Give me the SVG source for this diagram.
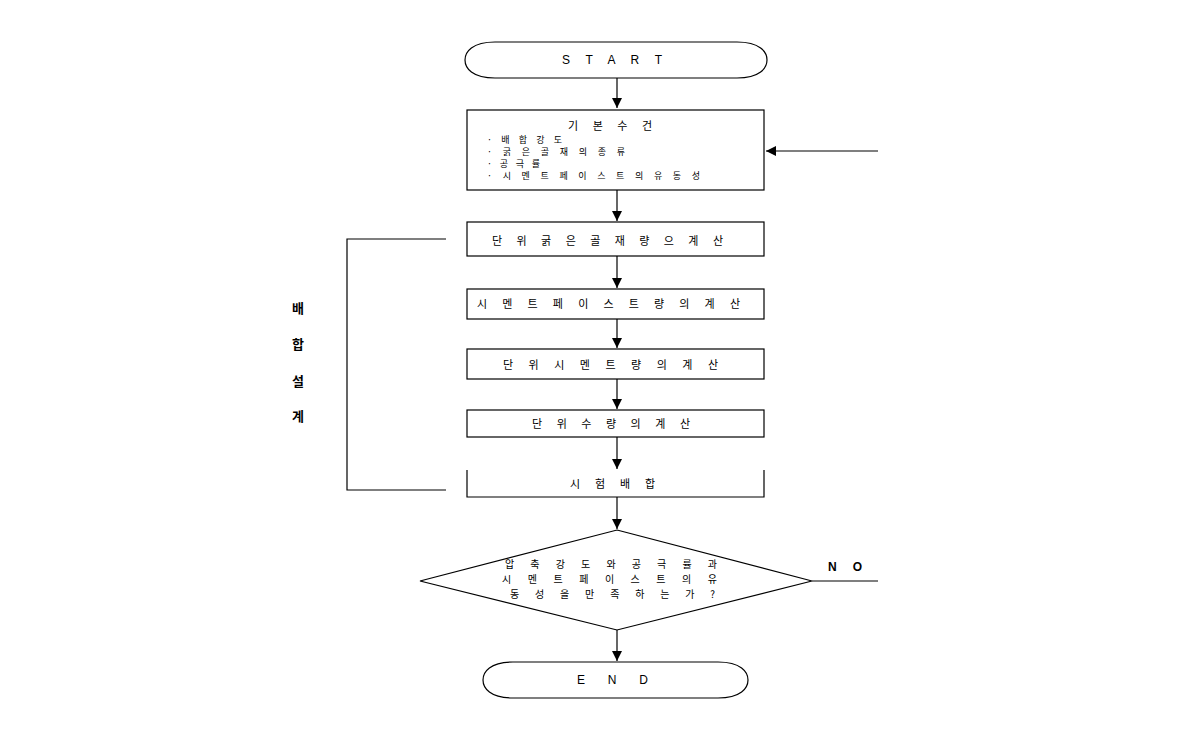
<svg xmlns="http://www.w3.org/2000/svg" width="1190" height="750" viewBox="0 0 1190 750">
<style>
.s{fill:#fff;stroke:#000;stroke-width:1.2}
.l{fill:none;stroke:#000;stroke-width:1.2}
.t{font-family:"Noto Sans CJK KR","Liberation Sans",sans-serif;font-size:11px;fill:#000;dominant-baseline:central}
.sm{font-size:9px}
.d{font-size:10px}
.b{font-weight:bold;font-size:13px}
</style>
<defs>
<marker id="ah" markerUnits="userSpaceOnUse" markerWidth="12" markerHeight="10" refX="10" refY="5" orient="auto">
<path d="M0,0 L10,5 L0,10 Z" fill="#000"/>
</marker>
</defs>
<rect width="1190" height="750" fill="#fff"/>
<g id="connectors">
<line class="l" x1="617" y1="78" x2="617" y2="108" marker-end="url(#ah)"/>
<line class="l" x1="617" y1="190" x2="617" y2="221" marker-end="url(#ah)"/>
<line class="l" x1="617" y1="256" x2="617" y2="288" marker-end="url(#ah)"/>
<line class="l" x1="617" y1="319" x2="617" y2="348" marker-end="url(#ah)"/>
<line class="l" x1="617" y1="379" x2="617" y2="409" marker-end="url(#ah)"/>
<line class="l" x1="617" y1="437" x2="617" y2="469" marker-end="url(#ah)"/>
<line class="l" x1="617" y1="497" x2="617" y2="529" marker-end="url(#ah)"/>
<line class="l" x1="617" y1="630" x2="617" y2="661" marker-end="url(#ah)"/>
<line class="l" x1="878" y1="151" x2="766" y2="151" marker-end="url(#ah)"/>
<line class="l" x1="812" y1="581" x2="878" y2="581"/>
<polyline class="l" points="446,239 347,239 347,490 446,490"/>
</g>
<g id="start">
<path class="s" d="M495,42 H737 C760,42 767,52 767,60 C767,68 760,78 737,78 H495 C472,78 465,68 465,60 C465,52 472,42 495,42 Z"/>
<text class="t" x="562" y="60" textLength="100" lengthAdjust="spacing" style="font-family:'Liberation Sans',sans-serif;font-size:12px">S T A R T</text>
</g>
<g id="basic">
<rect class="s" x="467" y="110" width="297" height="80"/>
<text class="t" x="568" y="125" textLength="84" lengthAdjust="spacing">기 본 수 건</text>
<text class="t sm" x="487" y="139" textLength="75" lengthAdjust="spacing">· 배 합 강 도</text>
<text class="t sm" x="487" y="151" textLength="138" lengthAdjust="spacing">· 굵 은 골 재 의  종 류</text>
<text class="t sm" x="487" y="163" textLength="53" lengthAdjust="spacing">· 공 극 률</text>
<text class="t sm" x="487" y="175" textLength="213" lengthAdjust="spacing">· 시 멘 트 페 이 스 트 의  유 동 성</text>
</g>
<g id="box2">
<rect class="s" x="467" y="222" width="297" height="34"/>
<text class="t" x="492" y="240" textLength="231" lengthAdjust="spacing">단 위  굵 은 골 재 량 으  계 산</text>
</g>
<g id="box3">
<rect class="s" x="467" y="289" width="297" height="30"/>
<text class="t" x="477" y="303" textLength="263" lengthAdjust="spacing">시 멘 트  페 이 스 트 량 의  계 산</text>
</g>
<g id="box4">
<rect class="s" x="467" y="349" width="297" height="30"/>
<text class="t" x="503" y="364" textLength="215" lengthAdjust="spacing">단 위  시 멘 트 량 의  계 산</text>
</g>
<g id="box5">
<rect class="s" x="467" y="410" width="297" height="27"/>
<text class="t" x="532" y="423" textLength="158" lengthAdjust="spacing">단 위 수 량 의  계 산</text>
</g>
<g id="box6">
<polyline class="l" points="467,470 467,497 764,497 764,470"/>
<text class="t" x="570" y="483" textLength="85" lengthAdjust="spacing">시 험 배 합</text>
</g>
<g id="decision">
<polygon class="s" points="617,530 812,581 617,630 420,581"/>
<text class="t d" x="505" y="563" textLength="212" lengthAdjust="spacing">압 축 강 도 와  공 극 률 과</text>
<text class="t d" x="502" y="578" textLength="215" lengthAdjust="spacing">시 멘 트  페 이 스 트 의  유</text>
<text class="t d" x="510" y="593" textLength="205" lengthAdjust="spacing">동 성 을  만 족 하 는 가 ?</text>
<text class="t" x="828" y="567" style="font-family:'Liberation Sans',sans-serif;font-weight:bold;font-size:12px" textLength="34" lengthAdjust="spacing">N O</text>
</g>
<g id="end">
<path class="s" d="M513,662 H718 C741,662 748,672 748,680 C748,688 741,698 718,698 H513 C490,698 483,688 483,680 C483,672 490,662 513,662 Z"/>
<text class="t" x="577" y="680" textLength="71" lengthAdjust="spacing" style="font-family:'Liberation Sans',sans-serif;font-size:12px">E N D</text>
</g>
<g id="label">
<text class="t b" x="298" y="307" text-anchor="middle">배</text>
<text class="t b" x="298" y="343" text-anchor="middle">합</text>
<text class="t b" x="298" y="380" text-anchor="middle">설</text>
<text class="t b" x="298" y="415" text-anchor="middle">계</text>
</g>
</svg>
